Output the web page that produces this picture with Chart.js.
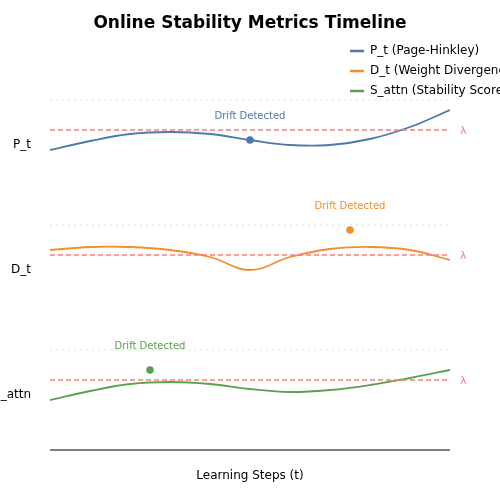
<!DOCTYPE html><html><head><script src="https://cdn.jsdelivr.net/npm/chart.js@4"></script>
<style>body{margin:0;background:#fff}</style></head><body>
<canvas id="c" width="500" height="500"></canvas>
<script>
const steps=[0,10,20,30,40,50,60,70,80,90,100];
const pVals=[300,309,316,318,316,310,305,305,311,323,340];
const dVals=[200,203,203,200,193,180,193,201,203,200,190];
const sVals=[50,59,66,68,66,61,58,60,65,72,80];
const seriesNames=['P_t (Page-Hinkley)','D_t (Weight Divergence)','S_attn (Stability Score)'];
const rowLabels=['P_t','D_t','S_attn'];
const rowCenters=[305,180,55];
const lambdas=[320,195,70];
const gridTops=[350,225,100];
const drift=[{x:50,y:310},{x:75,y:220},{x:25,y:80}];
const colors=['#4e79a7','#f28e2b','#59a14f'];
const mk=(v)=>steps.map((s,i)=>({x:s,y:v[i]}));
const deco={id:'deco',afterDatasetsDraw(ch){
 const c=ch.ctx,xs=ch.scales.x,ys=ch.scales.y,a=ch.chartArea;
 c.save();
 for(let i=0;i<3;i++){
  c.setLineDash([2,4]);c.strokeStyle='#dddddd';c.lineWidth=1;
  c.beginPath();c.moveTo(a.left,ys.getPixelForValue(gridTops[i]));c.lineTo(a.right,ys.getPixelForValue(gridTops[i]));c.stroke();
  c.setLineDash([5,3]);c.strokeStyle='#f08080';c.lineWidth=1.3;
  const ly=ys.getPixelForValue(lambdas[i]);
  c.beginPath();c.moveTo(a.left,ly);c.lineTo(a.right,ly);c.stroke();
  c.setLineDash([]);
  c.fillStyle='#f08080';c.font='11px "DejaVu Sans"';c.textAlign='left';c.textBaseline='middle';
  c.fillText('λ',a.right+10,ly+1);
  c.fillStyle='#000';c.font='12px "DejaVu Sans"';c.textAlign='right';
  c.fillText(rowLabels[i],31,ys.getPixelForValue(rowCenters[i]));
  const dx=xs.getPixelForValue(drift[i].x),dy=ys.getPixelForValue(drift[i].y);
  c.fillStyle=colors[i];c.beginPath();c.arc(dx,dy,3.8,0,Math.PI*2);c.fill();
  c.font='10px "DejaVu Sans"';c.textAlign='center';c.fillText('Drift Detected',dx,dy-24);
 }
 c.strokeStyle='#000';c.lineWidth=1.2;c.beginPath();c.moveTo(a.left,a.bottom);c.lineTo(a.right,a.bottom);c.stroke();
 c.fillStyle='#000';c.font='12px "DejaVu Sans"';c.textAlign='center';c.textBaseline='middle';
 c.fillText('Learning Steps (t)',250,476);
 c.font='bold 17px "DejaVu Sans"';c.fillText('Online Stability Metrics Timeline',250,24);
 c.font='12px "DejaVu Sans"';c.textAlign='left';
 for(let i=0;i<3;i++){const y=51+i*20;c.strokeStyle=colors[i];c.lineWidth=2.5;c.beginPath();c.moveTo(350,y);c.lineTo(364,y);c.stroke();c.fillStyle='#000';c.fillText(seriesNames[i],370,y);}
 c.restore();}};
new Chart(document.getElementById('c'),{type:'line',
 data:{datasets:[pVals,dVals,sVals].map((v,i)=>({label:seriesNames[i],data:mk(v),borderColor:colors[i],borderWidth:1.8,pointRadius:0,tension:0.4,fill:false}))},
 options:{responsive:false,animation:false,layout:{padding:{left:50,right:50,top:50,bottom:50}},
  plugins:{legend:{display:false},tooltip:{enabled:false}},
  scales:{x:{type:'linear',min:0,max:100,display:false},y:{min:0,max:400,display:false}}},
 plugins:[deco]});
</script></body></html>
